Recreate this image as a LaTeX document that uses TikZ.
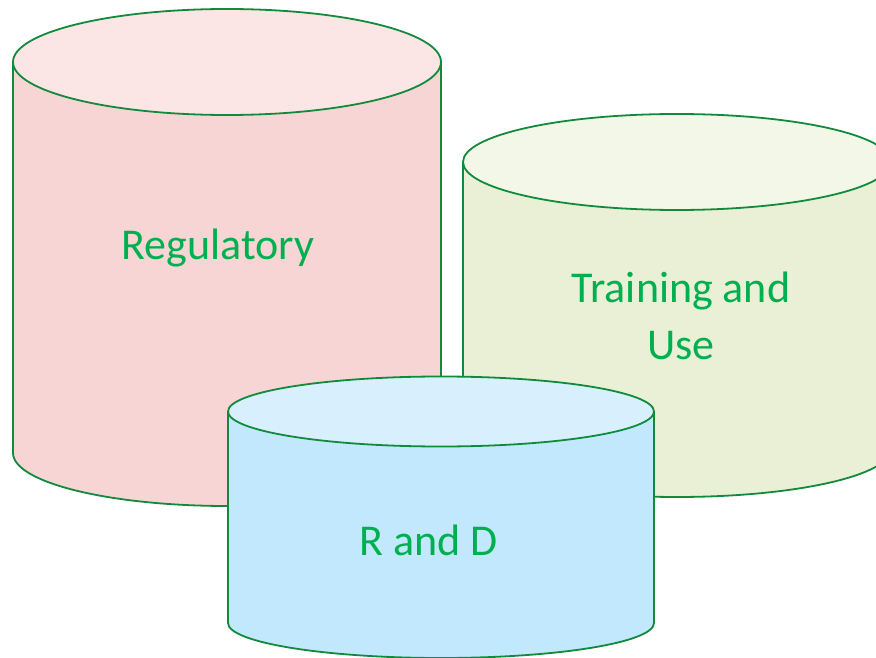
\documentclass[tikz,border=0pt]{standalone}
\usepackage{fontspec}
\setmainfont{Carlito}
\definecolor{edge}{RGB}{18,138,60}
\definecolor{txt}{RGB}{0,176,80}
\definecolor{pinkbody}{RGB}{248,213,213}
\definecolor{pinktop}{RGB}{251,229,229}
\definecolor{greenbody}{RGB}{233,240,214}
\definecolor{greentop}{RGB}{242,247,232}
\definecolor{bluebody}{RGB}{193,232,252}
\definecolor{bluetop}{RGB}{216,240,253}
\tikzset{
  outline/.style={draw=edge, line width=1.8pt, line join=round},
  label/.style={text=txt, font=\fontsize{44}{58}\selectfont, inner sep=0pt, align=center},
  pics/can/.style n args={7}{code={
    % #1 cx, #2 top centre Y, #3 bottom centre Y, #4 rx, #5 ry, #6 body, #7 top
    \fill[#6] (#1-#4,#2) -- (#1-#4,#3) arc[start angle=180, end angle=360, x radius=#4, y radius=#5] -- (#1+#4,#2) -- cycle;
    \draw[outline] (#1-#4,#2) -- (#1-#4,#3) arc[start angle=180, end angle=360, x radius=#4, y radius=#5] -- (#1+#4,#2);
    \filldraw[outline, fill=#7] (#1,#2) ellipse[x radius=#4, y radius=#5];
  }}
}
\begin{document}
\begin{tikzpicture}[x=1pt,y=1pt]
\useasboundingbox (0,0) rectangle (876,657);
\clip (0,0) rectangle (876,657);
\pic {can={227}{595}{204}{214}{53}{pinkbody}{pinktop}};
\pic {can={677}{495}{208}{214}{48}{greenbody}{greentop}};
\pic {can={441}{245.5}{34}{213}{35}{bluebody}{bluetop}};
\node[label, anchor=base] (reg) at (218,397.7) {Regulatory};
\node[label, anchor=base] (train) at (681,297) {Training and\\Use};
\node[label, anchor=base] (rd) at (429,102) {R and D};
\end{tikzpicture}
\end{document}
